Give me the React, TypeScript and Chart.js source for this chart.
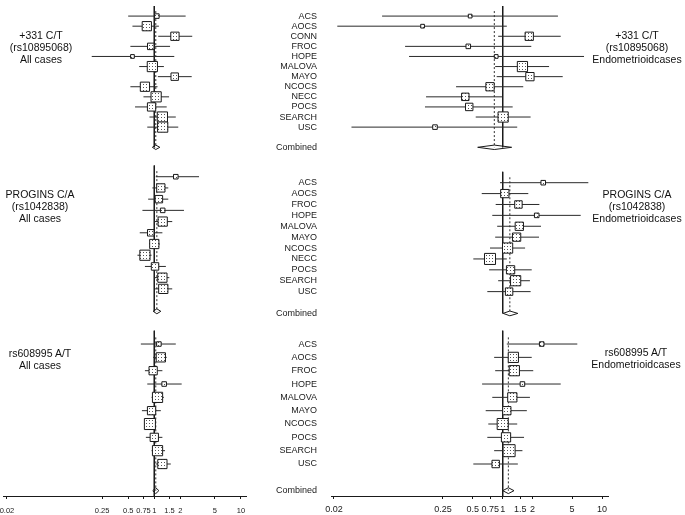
import React, { useEffect, useRef } from 'react';
import { Chart, registerables } from 'chart.js';
Chart.register(...registerables);

const FONT = '"Liberation Sans", Arial, Helvetica, sans-serif';

// ---- categories ----
const studies331 = ['ACS', 'AOCS', 'CONN', 'FROC', 'HOPE', 'MALOVA', 'MAYO', 'NCOCS', 'NECC', 'POCS', 'SEARCH', 'USC'];
const studiesPro = ['ACS', 'AOCS', 'FROC', 'HOPE', 'MALOVA', 'MAYO', 'NCOCS', 'NECC', 'POCS', 'SEARCH', 'USC'];
const studies608 = ['ACS', 'AOCS', 'FROC', 'HOPE', 'MALOVA', 'MAYO', 'NCOCS', 'POCS', 'SEARCH', 'USC'];
const combinedLabel = 'Combined';

// ---- x axis ticks ----
const xTickValues = [0.02, 0.25, 0.5, 0.75, 1, 1.5, 2, 5, 10];
const xTickLabels = ['0.02', '0.25', '0.5', '0.75', '1', '1.5', '2', '5', '10'];

// ---- panel titles ----
const title331All = ['+331 C/T', '(rs10895068)', 'All cases'];
const title331End = ['+331 C/T', '(rs10895068)', 'Endometrioidcases'];
const titleProAll = ['PROGINS C/A', '(rs1042838)', 'All cases'];
const titleProEnd = ['PROGINS C/A', '(rs1042838)', 'Endometrioidcases'];
const title608All = ['rs608995 A/T', 'All cases'];
const title608End = ['rs608995 A/T', 'Endometrioidcases'];

// ---- +331 C/T, all cases ----  (OR, lower, upper, relative weight) ; combined [OR, lo, hi]
const or331All = [1.07, 0.82, 1.73, 0.91, 0.56, 0.95, 1.72, 0.78, 1.05, 0.93, 1.24, 1.25];
const lo331All = [0.50, 0.56, 1.11, 0.53, 0.19, 0.67, 1.10, 0.53, 0.75, 0.60, 0.88, 0.83];
const hi331All = [2.30, 1.13, 2.74, 1.52, 1.70, 1.29, 2.70, 1.09, 1.48, 1.39, 1.77, 1.89];
const wt331All = [0.38, 0.77, 0.69, 0.54, 0.31, 0.85, 0.62, 0.77, 0.85, 0.69, 0.85, 0.85];
const comb331All = [1.04, 0.95, 1.16];

// ---- +331 C/T, endometrioid ----
const or331End = [0.47, 0.156, 1.85, 0.45, 0.86, 1.58, 1.88, 0.745, 0.42, 0.46, 1.01, 0.208];
const lo331End = [0.061, 0.0216, 0.90, 0.104, 0.114, 0.84, 0.87, 0.339, 0.169, 0.165, 0.535, 0.030];
const hi331End = [3.60, 1.10, 3.84, 1.94, 6.59, 2.93, 4.02, 1.61, 1.00, 1.26, 1.91, 1.40];
const wt331End = [0.31, 0.31, 0.69, 0.38, 0.31, 0.85, 0.69, 0.69, 0.62, 0.62, 0.85, 0.38];
const comb331End = [0.823, 0.56, 1.23];

// ---- PROGINS C/A, all cases ----
const orProAll = [1.77, 1.19, 1.13, 1.25, 1.25, 0.91, 1.00, 0.78, 1.02, 1.24, 1.27];
const loProAll = [1.04, 0.95, 0.85, 0.73, 1.00, 0.68, 0.875, 0.64, 0.78, 1.00, 1.02];
const hiProAll = [3.28, 1.45, 1.45, 2.20, 1.61, 1.24, 1.16, 0.93, 1.36, 1.49, 1.61];
const wtProAll = [0.38, 0.69, 0.62, 0.38, 0.77, 0.54, 0.77, 0.85, 0.62, 0.77, 0.77];
const combProAll = [1.07, 0.97, 1.19];

// ---- PROGINS C/A, endometrioid ----
const orProEnd = [2.56, 1.05, 1.44, 2.20, 1.47, 1.38, 1.12, 0.745, 1.20, 1.35, 1.16];
const loProEnd = [0.94, 0.615, 0.85, 0.785, 0.88, 0.84, 0.745, 0.506, 0.73, 0.90, 0.70];
const hiProEnd = [7.28, 1.81, 2.34, 6.10, 2.43, 2.32, 1.68, 1.10, 1.96, 1.88, 1.91];
const wtProEnd = [0.38, 0.69, 0.62, 0.38, 0.69, 0.69, 0.85, 0.92, 0.69, 0.85, 0.62];
const combProEnd = [1.18, 1.01, 1.42];

// ---- rs608995 A/T, all cases ----
const or608All = [1.13, 1.19, 0.97, 1.30, 1.09, 0.93, 0.89, 1.00, 1.09, 1.24];
const lo608All = [0.70, 0.97, 0.78, 0.83, 0.93, 0.72, 0.77, 0.80, 0.93, 1.04];
const hi608All = [1.77, 1.39, 1.24, 2.07, 1.29, 1.19, 1.02, 1.24, 1.33, 1.55];
const wt608All = [0.38, 0.77, 0.69, 0.38, 0.85, 0.69, 0.92, 0.69, 0.85, 0.77];
const comb608All = [1.04, 0.96, 1.13];

// ---- rs608995 A/T, endometrioid ----
const or608End = [2.47, 1.28, 1.31, 1.58, 1.25, 1.10, 1.00, 1.08, 1.16, 0.85];
const lo608End = [1.10, 0.82, 0.84, 0.62, 0.785, 0.674, 0.716, 0.70, 0.82, 0.506];
const hi608End = [5.64, 1.96, 2.03, 3.84, 1.88, 1.75, 1.40, 1.64, 1.58, 1.42];
const wt608End = [0.38, 0.85, 0.85, 0.38, 0.77, 0.69, 0.92, 0.77, 1.0, 0.62];
const comb608End = [1.14, 1.00, 1.30];

// ---- layout (page pixels) ----
const COLS: any = {
  L: { left: 3, right: 246, min: 0.018, max: 11.42, padL: 20, yAxisW: 0, padR: 20, tickFont: 7.5, tickPad: 7 },
  R: { left: 331, right: 608, min: 0.01866, max: 11.49, padL: 4, yAxisW: 100, padR: 20, tickFont: 9, tickPad: 5 },
};
const AXIS_H = 19;
const BOX_PX = 12;
const INK = '#1a1a1a';

type Spec = {
  names: string[]; or: number[]; lo: number[]; hi: number[]; wt: number[]; comb: number[];
  col: 'L' | 'R'; areaTop: number; areaBottom: number; extra: number; axis: boolean;
};

function makePattern(): CanvasPattern | string {
  const c = document.createElement('canvas');
  c.width = 3; c.height = 3;
  const g = c.getContext('2d');
  if (!g) return '#ddd';
  g.fillStyle = '#fff';
  g.fillRect(0, 0, 3, 3);
  g.fillStyle = '#555';
  g.fillRect(1, 1, 1, 1);
  const p = g.createPattern(c, 'repeat');
  return p || '#ddd';
}

function ForestPanel({ spec }: { spec: Spec }) {
  const ref = useRef<HTMLCanvasElement>(null);
  const col = COLS[spec.col];
  const top = Math.floor(spec.areaTop) - 10;
  const padT = spec.areaTop - top;
  const bottomEdge = spec.axis ? spec.areaBottom + AXIS_H : Math.ceil(spec.areaBottom) + 10;
  const height = Math.ceil(bottomEdge - top);
  const padB = height - padT - (spec.areaBottom - spec.areaTop) - (spec.axis ? AXIS_H : 0);
  const left = col.left - col.padL - col.yAxisW;
  const width = col.padL + col.yAxisW + (col.right - col.left) + col.padR;

  useEffect(() => {
    if (!ref.current) return;
    const n = spec.names.length;
    const combRow = n + 2;
    const yMax = combRow + spec.extra;
    const pattern = makePattern();
    const rows = spec.names.map((_, i) => i + 1);
    const ciData: any[] = [];
    rows.forEach((r, i) => {
      ciData.push({ x: spec.lo[i], y: r }, { x: spec.hi[i], y: r }, { x: null, y: null });
    });
    const boxData = rows.map((r, i) => ({ x: spec.or[i], y: r }));
    const radii = spec.wt.map((w) => (w * BOX_PX) / Math.SQRT2);
    const [cEst, cLo, cHi] = spec.comb;
    const h = 0.22;
    const diamond = [
      { x: cLo, y: combRow }, { x: cEst, y: combRow - h }, { x: cHi, y: combRow },
      { x: cEst, y: combRow + h }, { x: cLo, y: combRow },
    ];
    const tickRows = [...rows, combRow];
    const tickNames = [...spec.names, combinedLabel];
    const showX = spec.axis;
    const showY = spec.col === 'R';

    const chart = new Chart(ref.current, {
      type: 'scatter',
      data: {
        datasets: [
          {
            data: boxData, pointStyle: 'rect', pointRadius: radii, pointHoverRadius: radii,
            backgroundColor: pattern as any, borderColor: INK, borderWidth: 1, showLine: false, clip: false as any,
          },
          {
            data: diamond, showLine: true, borderColor: INK, borderWidth: 1, pointRadius: 0,
            backgroundColor: '#fff', fill: false, clip: false as any,
          },
          {
            data: ciData, showLine: true, spanGaps: false, borderColor: '#2a2a2a', borderWidth: 1,
            pointRadius: 0, clip: false as any,
          },
          {
            data: [{ x: cEst, y: 0.5 }, { x: cEst, y: combRow }], showLine: true, borderColor: '#333',
            borderWidth: 1, borderDash: [2, 2], pointRadius: 0, clip: false as any,
          },
          {
            data: [{ x: 1, y: 0 }, { x: 1, y: yMax }], showLine: true, borderColor: INK,
            borderWidth: 1, pointRadius: 0, clip: false as any,
          },
        ],
      },
      options: {
        animation: false,
        responsive: false,
        events: [],
        layout: { autoPadding: false, padding: { top: padT, bottom: padB, left: col.padL, right: col.padR } } as any,
        plugins: { legend: { display: false }, tooltip: { enabled: false }, title: { display: false } },
        scales: {
          x: {
            type: 'logarithmic',
            min: col.min,
            max: col.max,
            display: showX,
            grid: { display: true, drawOnChartArea: false, drawTicks: true, tickLength: 3, color: INK },
            border: { display: true, color: INK, width: 1 },
            ticks: {
              autoSkip: false, maxRotation: 0, minRotation: 0, padding: col.tickPad, color: INK,
              font: { family: FONT, size: col.tickFont },
              callback: (_v: any, i: number) => xTickLabels[i],
            },
            afterBuildTicks: (s: any) => { s.ticks = xTickValues.map((v) => ({ value: v })); },
            afterFit: (s: any) => { s.height = showX ? AXIS_H : 0; s.paddingLeft = 0; s.paddingRight = 0; },
          } as any,
          y: {
            type: 'linear',
            reverse: true,
            min: 0,
            max: yMax,
            display: showY,
            grid: { display: false, drawTicks: false },
            border: { display: false },
            ticks: {
              autoSkip: false, padding: 14, color: INK,
              font: { family: FONT, size: 9 },
              callback: (_v: any, i: number) => tickNames[i],
            },
            afterBuildTicks: (s: any) => { s.ticks = tickRows.map((v) => ({ value: v })); },
            afterFit: (s: any) => { s.width = showY ? col.yAxisW : 0; s.paddingTop = 0; s.paddingBottom = 0; },
          } as any,
        },
      },
    });
    return () => chart.destroy();
  }, []);

  return (
    <canvas
      ref={ref}
      width={width}
      height={height}
      style={{ position: 'absolute', left, top, width, height }}
    />
  );
}

function Title({ lines, cx, cy }: { lines: string[]; cx: number; cy: number }) {
  return (
    <div
      style={{
        position: 'absolute', left: cx - 70, top: cy - 6, width: 140, textAlign: 'center',
        fontFamily: FONT, fontSize: '10.5px', lineHeight: '12px', color: '#111', whiteSpace: 'nowrap',
      }}
    >
      {lines.map((l, i) => <div key={i}>{l}</div>)}
    </div>
  );
}

const specs: Spec[] = [
  { names: studies331, or: or331All, lo: lo331All, hi: hi331All, wt: wt331All, comb: comb331All, col: 'L', areaTop: 6, areaBottom: 147.3, extra: 0, axis: false },
  { names: studies331, or: or331End, lo: lo331End, hi: hi331End, wt: wt331End, comb: comb331End, col: 'R', areaTop: 6, areaBottom: 147.3, extra: 0, axis: false },
  { names: studiesPro, or: orProAll, lo: loProAll, hi: hiProAll, wt: wtProAll, comb: combProAll, col: 'L', areaTop: 165.5, areaBottom: 311.3, extra: 0, axis: false },
  { names: studiesPro, or: orProEnd, lo: loProEnd, hi: hiProEnd, wt: wtProEnd, comb: combProEnd, col: 'R', areaTop: 171.8, areaBottom: 313.4, extra: 0, axis: false },
  { names: studies608, or: or608All, lo: lo608All, hi: hi608All, wt: wt608All, comb: comb608All, col: 'L', areaTop: 330.7, areaBottom: 496, extra: 0.4, axis: true },
  { names: studies608, or: or608End, lo: lo608End, hi: hi608End, wt: wt608End, comb: comb608End, col: 'R', areaTop: 330.7, areaBottom: 496, extra: 0.4, axis: true },
];

export default function App() {
  useEffect(() => {
    document.body.style.margin = '0';
  }, []);
  return (
    <div style={{ position: 'absolute', left: 0, top: 0, width: 685, height: 515, background: '#fff', overflow: 'hidden' }}>
      {specs.map((s, i) => <ForestPanel key={i} spec={s} />)}
      <Title lines={title331All} cx={41} cy={35} />
      <Title lines={title331End} cx={637} cy={35} />
      <Title lines={titleProAll} cx={40} cy={194} />
      <Title lines={titleProEnd} cx={637} cy={194} />
      <Title lines={title608All} cx={40} cy={353} />
      <Title lines={title608End} cx={636} cy={352} />
    </div>
  );
}
